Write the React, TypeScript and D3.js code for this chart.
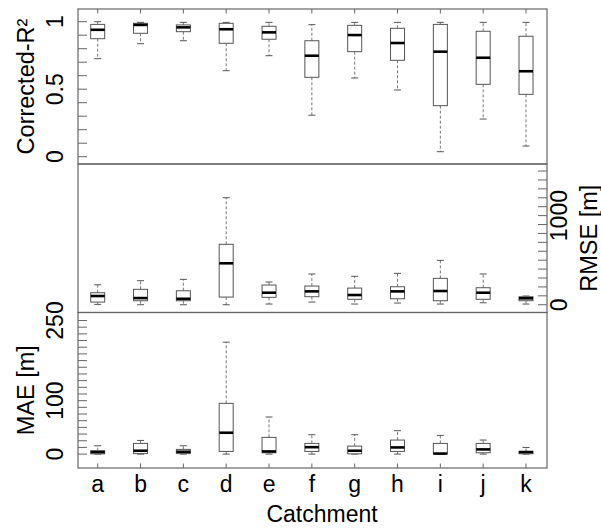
import React, { useRef, useEffect } from 'react';
import * as d3 from 'd3';

const catchments = ['a', 'b', 'c', 'd', 'e', 'f', 'g', 'h', 'i', 'j', 'k'];

// each row: [min, q1, median, q3, max]
const r2Stats = [
    [0.726, 0.874, 0.94, 0.98, 1.0],
    [0.837, 0.914, 0.976, 0.988, 0.995],
    [0.859, 0.926, 0.958, 0.976, 0.995],
    [0.637, 0.84, 0.944, 0.988, 0.995],
    [0.748, 0.87, 0.921, 0.966, 0.995],
    [0.307, 0.588, 0.748, 0.859, 0.978],
    [0.583, 0.778, 0.901, 0.973, 0.995],
    [0.494, 0.714, 0.842, 0.951, 0.995],
    [0.037, 0.378, 0.778, 0.98, 0.995],
    [0.279, 0.536, 0.733, 0.929, 0.995],
    [0.079, 0.462, 0.633, 0.892, 0.995],
];

const rmseStats = [
    [4, 30, 98, 135, 224],
    [0, 45, 75, 173, 270],
    [0, 45, 67, 157, 285],
    [0, 86, 465, 678, 1201],
    [8, 83, 135, 221, 255],
    [30, 90, 150, 210, 345],
    [8, 61, 109, 187, 319],
    [19, 67, 150, 202, 352],
    [8, 45, 154, 296, 498],
    [22, 61, 135, 191, 345],
    [8, 45, 72, 90, 98],
];

const maeStats = [
    [0, 0.5, 3.8, 6.3, 15.6],
    [0, 1, 6.3, 20, 25.6],
    [0, 1, 4.4, 8.8, 15.6],
    [0, 5, 40, 95, 209.5],
    [0, 2.5, 5, 31.3, 69.4],
    [0, 5, 13, 20, 36.3],
    [0, 0.5, 6.3, 15, 36.3],
    [0, 5, 12.5, 26.3, 43.8],
    [0, 0.5, 1, 20, 35],
    [0, 2.5, 8.8, 20, 26.3],
    [0, 0.6, 3.8, 5, 12.5],
];

const r2Labels = [0, 0.5, 1];
const rmseLabels = [0, 1000];
const maeLabels = [0, 100, 250];

const FONT = "'Liberation Sans', Arial, sans-serif";

const App = () => {
    const ref = useRef(null);

    useEffect(() => {
        const svg = d3.select(ref.current);
        svg.selectAll('*').remove();

        const left = 78, right = 547;
        const x = d3.scaleLinear().domain([0.54, 11.49]).range([left, right]);
        const boxW = 14, capW = 7;

        const panels = [
            { stats: r2Stats, top: 9, bottom: 164, domain: [-0.054, 1.094], ticks: d3.range(0, 1.0001, 0.1), labels: r2Labels, side: 'left', title: 'Corrected-R²', xTicks: 'top' },
            { stats: rmseStats, top: 164, bottom: 312.5, domain: [-87, 1579], ticks: d3.range(0, 1501, 100), labels: rmseLabels, side: 'right', title: 'RMSE [m]', xTicks: null },
            { stats: maeStats, top: 312.5, bottom: 468, domain: [-26, 265], ticks: d3.range(0, 250.01, 12.5), labels: maeLabels, side: 'left', title: 'MAE [m]', xTicks: 'bottom' },
        ];

        panels.forEach(p => {
            const y = d3.scaleLinear().domain(p.domain).range([p.bottom, p.top]);
            const g = svg.append('g');

            // y ticks, pointing inward
            const ax = p.side === 'left' ? left : right;
            const dir = p.side === 'left' ? 1 : -1;
            g.selectAll('.ytick')
                .data(p.ticks)
                .enter().append('line')
                .attr('x1', ax).attr('x2', ax + dir * 9)
                .attr('y1', d => y(d)).attr('y2', d => y(d))
                .attr('stroke', '#666').attr('stroke-width', 1);

            const labelX = p.side === 'left' ? 63 : 567;
            g.selectAll('.ylab')
                .data(p.labels)
                .enter().append('text')
                .attr('transform', d => `translate(${labelX}, ${y(d)}) rotate(-90)`)
                .attr('text-anchor', 'middle')
                .style('font-family', FONT).style('font-size', '23px')
                .text(d => String(d));

            const titleX = p.side === 'left' ? 33.5 : 597;
            g.append('text')
                .attr('transform', `translate(${titleX}, ${(p.top + p.bottom) / 2}) rotate(-90)`)
                .attr('text-anchor', 'middle')
                .style('font-family', FONT).style('font-size', '23.5px')
                .text(p.title);

            if (p.xTicks) {
                const ey = p.xTicks === 'top' ? p.top : p.bottom;
                const xd = p.xTicks === 'top' ? 4.5 : -4.5;
                g.selectAll('.xtick')
                    .data(catchments)
                    .enter().append('line')
                    .attr('x1', (d, i) => x(i + 1)).attr('x2', (d, i) => x(i + 1))
                    .attr('y1', ey).attr('y2', ey + xd)
                    .attr('stroke', '#666').attr('stroke-width', 1);
            }

            // boxes
            p.stats.forEach((s, i) => {
                const cx = x(i + 1);
                const [mn, q1, md, q3, mx] = s;
                const b = g.append('g');
                b.append('line')
                    .attr('x1', cx).attr('x2', cx).attr('y1', y(q3)).attr('y2', y(mx))
                    .attr('stroke', '#777').attr('stroke-dasharray', '3,2');
                b.append('line')
                    .attr('x1', cx).attr('x2', cx).attr('y1', y(q1)).attr('y2', y(mn))
                    .attr('stroke', '#777').attr('stroke-dasharray', '3,2');
                [mn, mx].forEach(v => {
                    b.append('line')
                        .attr('x1', cx - capW / 2).attr('x2', cx + capW / 2)
                        .attr('y1', y(v)).attr('y2', y(v))
                        .attr('stroke', '#555');
                });
                b.append('rect')
                    .attr('x', cx - boxW / 2).attr('width', boxW)
                    .attr('y', y(q3)).attr('height', Math.max(0.5, y(q1) - y(q3)))
                    .attr('fill', 'white').attr('stroke', '#555').attr('stroke-width', 1);
                b.append('line')
                    .attr('x1', cx - boxW / 2).attr('x2', cx + boxW / 2)
                    .attr('y1', y(md)).attr('y2', y(md))
                    .attr('stroke', '#000').attr('stroke-width', 2.6);
            });

            g.append('rect')
                .attr('x', left).attr('y', p.top)
                .attr('width', right - left).attr('height', p.bottom - p.top)
                .attr('fill', 'none').attr('stroke', '#666').attr('stroke-width', 1.2);
        });

        // x axis labels
        svg.selectAll('.xlab')
            .data(catchments)
            .enter().append('text')
            .attr('x', (d, i) => x(i + 1)).attr('y', 492)
            .attr('text-anchor', 'middle')
            .style('font-family', FONT).style('font-size', '23px')
            .text(d => d);

        svg.append('text')
            .attr('x', 322).attr('y', 522)
            .attr('text-anchor', 'middle')
            .style('font-family', FONT).style('font-size', '23px')
            .text('Catchment');
    }, []);

    return (
        <svg ref={ref} width={601} height={528} style={{ position: 'absolute', left: 0, top: 0, background: 'white' }} />
    );
};

export default App;
